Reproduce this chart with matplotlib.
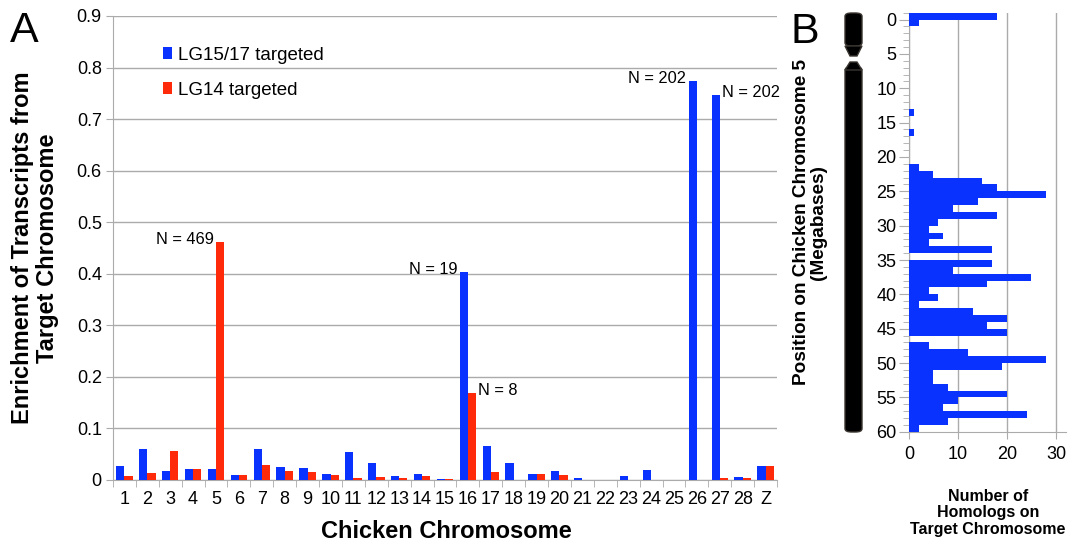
import numpy as np
import matplotlib
matplotlib.use('Agg')
import matplotlib.pyplot as plt
from matplotlib.patches import FancyBboxPatch, Polygon

plt.rcParams['font.family'] = ['Liberation Sans', 'DejaVu Sans']

BLUE = '#0a32ff'
RED = '#ff2a0a'
GRID = '#ababab'
W, H = 1078, 546

# panel A: enrichment per chicken chromosome
chromosomes = [str(i) for i in range(1, 29)] + ['Z']
lg15_17 = [0.027, 0.060, 0.018, 0.022, 0.022, 0.009, 0.061, 0.025, 0.024, 0.012,
           0.055, 0.032, 0.008, 0.011, 0.002, 0.404, 0.065, 0.032, 0.011, 0.018,
           0.004, 0.0, 0.007, 0.019, 0.0, 0.773, 0.746, 0.0065, 0.027]
lg14 = [0.008, 0.014, 0.057, 0.021, 0.462, 0.0097, 0.029, 0.017, 0.016, 0.010,
        0.0045, 0.005, 0.003, 0.008, 0.002, 0.169, 0.016, 0.0, 0.011, 0.0097,
        0.0, 0.0, 0.0, 0.0, 0.0, 0.0, 0.003, 0.003, 0.027]
n_labels = {('blue', 15): 'N = 19', ('blue', 25): 'N = 202', ('blue', 26): 'N = 202',
            ('red', 4): 'N = 469', ('red', 15): 'N = 8'}

# panel B: homolog counts along chicken chromosome 5, 1 Mb bins
bin_mb = np.arange(0, 61)
homologs = [18, 2, 0, 0, 0, 0, 0, 0, 0, 0,
            0, 0, 0, 0, 1, 0, 0, 1, 0, 0,
            0, 0, 2, 5, 15, 18, 28, 14, 9, 18,
            6, 4, 7, 4, 17, 0, 17, 9, 25, 16,
            4, 6, 2, 13, 20, 16, 20, 0, 4, 12,
            28, 19, 5, 5, 8, 20, 10, 7, 24, 8,
            2]


def px(xp, yp):
    # pixel position (from top-left) -> figure fraction
    return (xp / W, 1 - yp / H)


fig = plt.figure(figsize=(W / 100, H / 100), dpi=100)

# ---- panel A ----
ax = fig.add_axes([0.1048, 0.1209, 0.616, 0.8498])
x = np.arange(len(chromosomes))
w = 0.36
bb = ax.bar(x - w / 2, lg15_17, w, color=BLUE, label='LG15/17 targeted', zorder=3)
rb = ax.bar(x + w / 2, lg14, w, color=RED, label='LG14 targeted', zorder=3)

ax.set_xlim(-0.5, len(chromosomes) - 0.5)
ax.set_ylim(0, 0.9)
ax.set_yticks(np.arange(0, 0.91, 0.1))
ax.set_yticklabels(['0'] + ['%.1f' % v for v in np.arange(0.1, 0.91, 0.1)])
ax.yaxis.grid(True, color=GRID, lw=1)
ax.set_axisbelow(True)
ax.set_xticks(x)
ax.set_xticklabels(chromosomes)
ax.set_xticks(np.arange(-0.5, len(chromosomes)), minor=True)
ax.tick_params(axis='x', which='major', length=0, labelsize=13, pad=8)
ax.tick_params(axis='x', which='minor', length=5, color=GRID, direction='out')
ax.tick_params(axis='y', length=5, color=GRID, labelsize=13, pad=3)
for s in ['top', 'right']:
    ax.spines[s].set_visible(False)
for s in ['left', 'bottom']:
    ax.spines[s].set_color(GRID)

fig.text(*px(446, 532), 'Chicken Chromosome', fontsize=17, fontweight='bold',
         ha='center', va='center')
fig.text(*px(35, 248), 'Enrichment of Transcripts from\nTarget Chromosome', fontsize=17,
         fontweight='bold', rotation=90, ha='center', va='center', linespacing=1.15)

for (series, i), txt in n_labels.items():
    if series == 'blue':
        xi, yi = x[i] - w / 2, lg15_17[i]
    else:
        xi, yi = x[i] + w / 2, lg14[i]
    if (series, i) in [('red', 15), ('blue', 26)]:
        ax.text(xi + w / 2 + 0.1, yi + 0.005, txt, ha='left', va='center', fontsize=11.8)
    else:
        ax.text(xi - w / 2 - 0.1, yi + 0.005, txt, ha='right', va='center', fontsize=11.8)

ax.legend(handles=[bb, rb], loc='upper left', bbox_to_anchor=(0.05, 0.97),
          frameon=False, fontsize=13.5, handlelength=0.5, handleheight=0.62,
          handletextpad=0.3, labelspacing=0.95)

fig.text(*px(10, 42), 'A', fontsize=31, va='baseline', ha='left')
fig.text(*px(791, 43), 'B', fontsize=31, va='baseline', ha='left')

# ---- panel B ----
axb = fig.add_axes([0.8432, 0.2093, 0.1454, 0.7674])
axb.barh(bin_mb - 0.5, homologs, height=1.0, color=BLUE, zorder=3)
axb.set_ylim(60, -1)
axb.set_xlim(0, 32)
axb.set_yticks(np.arange(0, 61, 5))
axb.set_yticks(np.arange(-1, 61, 1), minor=True)
axb.set_xticks([0, 10, 20, 30])
axb.xaxis.grid(True, color=GRID, lw=1)
axb.set_axisbelow(True)
axb.tick_params(axis='y', which='major', length=7, color=GRID, labelsize=13, pad=2)
axb.tick_params(axis='y', which='minor', length=4, color=GRID)
axb.tick_params(axis='x', length=5, color=GRID, labelsize=13, pad=5)
for s in ['top', 'right']:
    axb.spines[s].set_visible(False)
for s in ['left', 'bottom']:
    axb.spines[s].set_color(GRID)
fig.text(*px(988, 513), 'Number of\nHomologs on\nTarget Chromosome', fontsize=11.5,
         fontweight='bold', ha='center', va='center', linespacing=1.12)
fig.text(*px(810, 222), 'Position on Chicken Chromosome 5\n(Megabases)', rotation=90,
         fontsize=13.7, fontweight='bold', ha='center', va='center', linespacing=1.0)

# chromosome 5 ideogram
cx0, cx1 = 845, 862
arm_style = dict(boxstyle='round,pad=0,rounding_size=0.006', transform=fig.transFigure,
                 fc='black', ec='#3a3530', lw=1)
fig.add_artist(FancyBboxPatch(px(cx0, 46), (cx1 - cx0) / W, 33 / H, **arm_style))
fig.add_artist(FancyBboxPatch(px(cx0, 432), (cx1 - cx0) / W, 365 / H, **arm_style))
cen_style = dict(closed=True, transform=fig.transFigure, fc='black', ec='#3a3530', lw=1)
fig.add_artist(Polygon([px(cx0, 46), px(cx1, 46), px(cx1 - 5, 56), px(cx0 + 5, 56)],
                       **cen_style))
fig.add_artist(Polygon([px(cx0 + 5, 62), px(cx1 - 5, 62), px(cx1, 70), px(cx0, 70)],
                       **cen_style))

fig.savefig('out.png', dpi=100)
